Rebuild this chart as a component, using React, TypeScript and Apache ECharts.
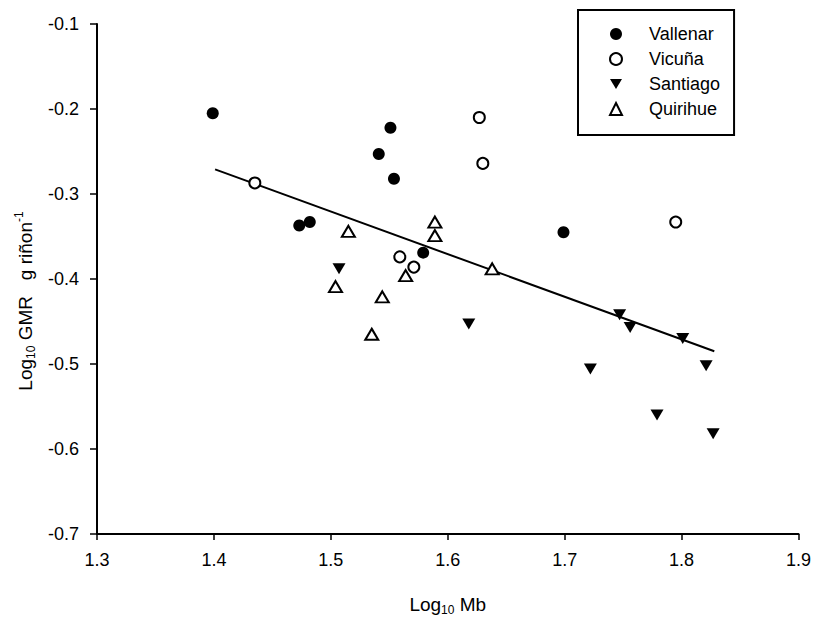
import React, { useEffect, useRef } from "react";
import * as echarts from "echarts";

const vallenarX = [1.399, 1.473, 1.482, 1.541, 1.551, 1.554, 1.579, 1.699];
const vallenarY = [-0.205, -0.337, -0.333, -0.253, -0.222, -0.282, -0.369, -0.345];
const vicunaX = [1.435, 1.559, 1.571, 1.627, 1.63, 1.795];
const vicunaY = [-0.287, -0.374, -0.386, -0.21, -0.264, -0.333];
const santiagoX = [1.507, 1.618, 1.722, 1.747, 1.756, 1.779, 1.801, 1.821, 1.827];
const santiagoY = [-0.388, -0.453, -0.506, -0.442, -0.457, -0.56, -0.47, -0.502, -0.582];
const quirihueX = [1.504, 1.515, 1.535, 1.544, 1.564, 1.589, 1.589, 1.638];
const quirihueY = [-0.409, -0.344, -0.465, -0.421, -0.396, -0.333, -0.349, -0.388];
const fitX = [1.401, 1.828];
const fitY = [-0.271, -0.485];
const seriesNames = ["Vallenar", "Vicuña", "Santiago", "Quirihue"];

const zip = (xs: number[], ys: number[]) => xs.map((x, i) => [x, ys[i]]);
const FONT = "Liberation Sans, Arial, sans-serif";
const DOWN_TRI = "path://M0,0L12,0L6,10Z";

export default function App() {
  const ref = useRef<HTMLDivElement>(null);
  useEffect(() => {
    if (!ref.current) return;
    const chart = echarts.init(ref.current, undefined, { renderer: "svg" });
    const axisText = { color: "#000", fontSize: 18, fontFamily: FONT };
    const rich = {
      a: { fontSize: 19, lineHeight: 24, fontFamily: FONT, color: "#000" },
      s: { fontSize: 12, lineHeight: 13, verticalAlign: "bottom", fontFamily: FONT, color: "#000" },
      p: { fontSize: 12, lineHeight: 13, verticalAlign: "top", fontFamily: FONT, color: "#000" },
    };
    chart.setOption({
      animation: false,
      backgroundColor: "#fff",
      grid: { left: 97, right: 15, top: 24, bottom: 84, containLabel: false },
      xAxis: {
        type: "value",
        min: 1.3,
        max: 1.9,
        interval: 0.1,
        name: "{a|Log}{s|10}{a| Mb}",
        nameLocation: "middle",
        nameGap: 58,
        nameTextStyle: { rich },
        axisLine: { show: true, onZero: false, lineStyle: { color: "#000", width: 2 } },
        axisTick: { show: true, inside: false, length: 6, lineStyle: { color: "#000", width: 1.5 } },
        axisLabel: { ...axisText, margin: 17, formatter: (v: number) => v.toFixed(1) },
        splitLine: { show: false },
      },
      yAxis: {
        type: "value",
        min: -0.7,
        max: -0.1,
        interval: 0.1,
        name: "{a|Log}{s|10}{a| GMR   g riñon}{p|-1}",
        nameLocation: "middle",
        nameRotate: 90,
        nameGap: 46,
        nameTextStyle: { rich, padding: [0, 44, 0, 0] },
        axisLine: { show: true, onZero: false, lineStyle: { color: "#000", width: 2 } },
        axisTick: { show: true, inside: false, length: 7, lineStyle: { color: "#000", width: 1.5 } },
        axisLabel: { ...axisText, margin: 18, formatter: (v: number) => v.toFixed(1) },
        splitLine: { show: false },
      },
      legend: {
        data: [
          { name: seriesNames[0] },
          { name: seriesNames[1] },
          { name: seriesNames[2], icon: DOWN_TRI },
          { name: seriesNames[3] },
        ],
        orient: "vertical",
        left: 578,
        top: 10,
        padding: [15, 14, 17, 31],
        itemWidth: 12,
        itemHeight: 12,
        itemGap: 7,
        borderColor: "#000",
        borderWidth: 2,
        borderRadius: 0,
        textStyle: { color: "#000", fontSize: 18, fontFamily: FONT, padding: [0, 0, 0, 22] },
      },
      series: [
        {
          name: "fit",
          type: "line",
          data: zip(fitX, fitY),
          showSymbol: false,
          lineStyle: { color: "#000", width: 2 },
          silent: true,
          z: 1,
        },
        {
          name: seriesNames[0],
          type: "scatter",
          data: zip(vallenarX, vallenarY),
          symbol: "circle",
          symbolSize: 12,
          itemStyle: { color: "#000", opacity: 1 },
          z: 3,
        },
        {
          name: seriesNames[1],
          type: "scatter",
          data: zip(vicunaX, vicunaY),
          symbol: "circle",
          symbolSize: 11,
          itemStyle: { color: "#fff", borderColor: "#000", borderWidth: 2, opacity: 1 },
          z: 3,
        },
        {
          name: seriesNames[2],
          type: "scatter",
          data: zip(santiagoX, santiagoY),
          symbol: "triangle",
          symbolRotate: 180,
          symbolSize: [13, 11],
          itemStyle: { color: "#000", opacity: 1 },
          z: 3,
        },
        {
          name: seriesNames[3],
          type: "scatter",
          data: zip(quirihueX, quirihueY),
          symbol: "triangle",
          symbolSize: [13, 11],
          itemStyle: { color: "#fff", borderColor: "#000", borderWidth: 2, opacity: 1 },
          z: 3,
        },
      ],
    });
    return () => chart.dispose();
  }, []);
  return (
    <div
      ref={ref}
      style={{ position: "fixed", left: 0, top: 0, width: 814, height: 621, background: "#fff" }}
    />
  );
}
